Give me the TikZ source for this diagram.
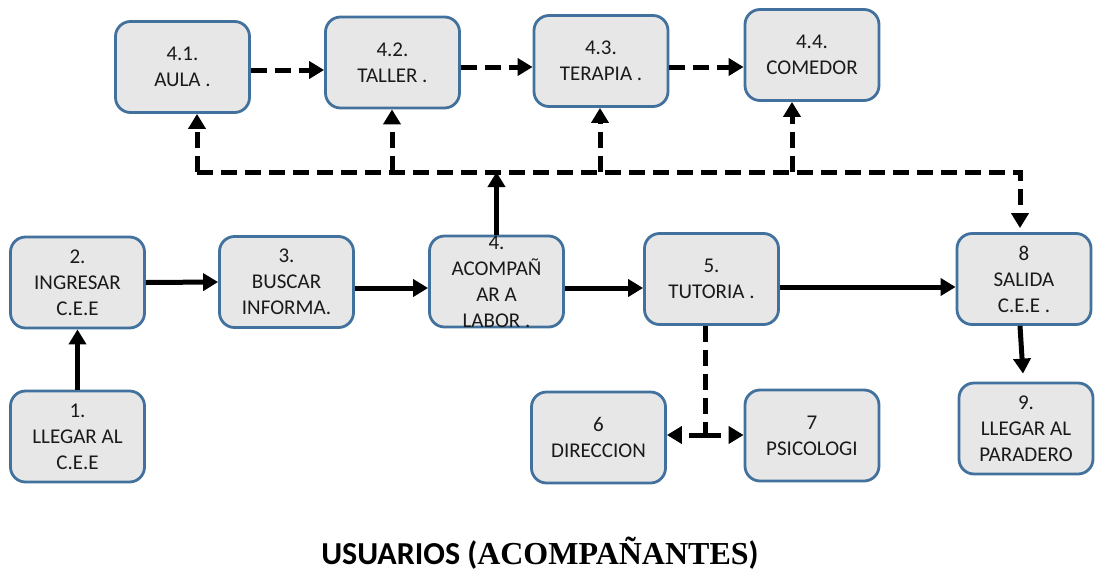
\documentclass[tikz,border=0pt]{standalone}
\usepackage{fontspec}
\setmainfont{Carlito}
\newfontfamily\tnr{Liberation Serif}
\usetikzlibrary{arrows.meta,calc}
\definecolor{boxfill}{HTML}{E7E7E7}
\definecolor{boxline}{HTML}{41719C}
\definecolor{txtcol}{HTML}{1A1A1A}
\begin{document}
\begin{tikzpicture}[x=1pt,y=-1pt,
  box/.style={draw=boxline,fill=boxfill,line width=2.8pt,rounded corners=15pt,
    minimum width=134pt,minimum height=91pt,inner sep=0pt,align=center,
    text=txtcol,font=\fontsize{21}{26}\selectfont},
  txt/.style={align=center,text=txtcol,font=\fontsize{21}{26}\selectfont,inner sep=0pt},
  solidarrow/.style={line width=5pt,-{Triangle[width=17pt,length=15pt]}},
  dasharrow/.style={line width=5pt,dash pattern=on 16pt off 8pt,-{Triangle[width=17pt,length=15pt]}},
  dashline/.style={line width=5pt,dash pattern=on 16pt off 8pt}]
\useasboundingbox (0,0) rectangle (1096,574);
% top row
\node[box] (n41) at (182.5,67) {4.1.\\AULA .};
\node[box] (n42) at (392.5,62.5) {4.2.\\TALLER .};
\node[box] (n43) at (601,61) {4.3.\\TERAPIA .};
\node[box] (n44) at (812,55) {4.4.\\COMEDOR};
% middle row
\node[box] (n2) at (77.5,282.5) {2.\\INGRESAR\\C.E.E};
\node[box] (n3) at (286.5,282) {3.\\BUSCAR\\INFORMA.};
\node[box] (n4) at (496.5,281.5) {};
\node[txt] at (n4) {4.\\ACOMPAÑ\\AR A\\LABOR .};
\node[box] (n5) at (711.5,279) {5.\\TUTORIA .};
\node[box] (n8) at (1024,279) {8\\SALIDA\\C.E.E .};
% bottom row
\node[box] (n1) at (77.5,436.5) {1.\\LLEGAR AL\\C.E.E};
\node[box] (n6) at (598.5,437.5) {6\\DIRECCION};
\node[box] (n7) at (812,435.5) {7\\PSICOLOGI};
\node[box] (n9) at (1026,428.5) {9.\\LLEGAR AL\\PARADERO};
% title
\node (title) at (540,553) {\fontsize{32}{36}\selectfont\bfseries USUARIOS ({\tnr\bfseries ACOMPAÑANTES})};
% coordinates
\coordinate (jl) at (197,172);
\coordinate (jr) at (1020,172);
\coordinate (j4) at (496.5,172);
\coordinate (j42) at (392,172);
\coordinate (j43) at (600,172);
\coordinate (j44) at (792,172);
\coordinate (j5) at (705,435);
% solid arrows
\draw[solidarrow] (n1.north) -- (n2.south);
\draw[solidarrow] (n2.east) -- (n3.west);
\draw[solidarrow] ([yshift=-6pt]n3.east) -- ([yshift=-6.5pt]n4.west);
\draw[solidarrow] ([yshift=-6.5pt]n4.east) -- ([yshift=-9pt]n5.west);
\draw[solidarrow] ([yshift=-8pt]n5.east) -- ([yshift=-8pt]n8.west);
\draw[solidarrow] ([xshift=-4pt]n8.south) -- ([xshift=-3pt,yshift=8pt]n9.north);
\draw[solidarrow] (n4.north) -- (j4);
% dashed top row
\draw[dasharrow] ([yshift=-3pt]n41.east) -- ([yshift=-7.5pt]n42.west);
\draw[dasharrow] ([yshift=-4.5pt]n42.east) -- ([yshift=-6pt]n43.west);
\draw[dasharrow] ([yshift=-6pt]n43.east) -- ([yshift=-12pt]n44.west);
% dashed distribution line
\draw[dasharrow] (jl) -- (jr) -- ([yshift=4pt]jr |- n8.north);
\draw[dasharrow] (jl) -- (jl |- n41.south);
\draw[dasharrow] (j42) -- (j42 |- n42.south);
\draw[dasharrow] (j43) -- (j43 |- n43.south);
\draw[dasharrow] (j44) -- (j44 |- n44.south);
% tutoria branches
\draw[dashline] (j5 |- n5.south) -- (j5);
\draw[dasharrow] (j5) -- (j5 -| n6.east);
\draw[dasharrow] (j5) -- (j5 -| n7.west);
\end{tikzpicture}
\end{document}
